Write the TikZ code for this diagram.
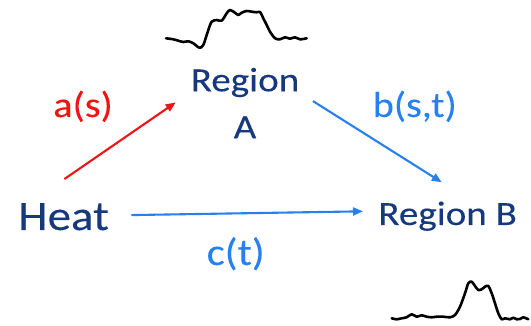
\documentclass[tikz,border=0pt]{standalone}
\usepackage{fontspec}
\setmainfont[FakeStretch=1.12,FakeBold=0.15]{Carlito}
\newfontfamily\widefont[FakeStretch=1.15,FakeBold=0.15]{Carlito}
\usetikzlibrary{arrows.meta}
\definecolor{darkblue}{RGB}{22,56,125}
\definecolor{lightblue}{RGB}{38,128,240}
\definecolor{redarrow}{RGB}{240,20,20}
\tikzset{
  region/.style={inner sep=0pt, outer sep=0pt, text=darkblue},
  label/.style={inner sep=0pt, outer sep=0pt},
  conn/.style={line width=2.1pt, -{Triangle[length=10pt,width=8pt]}},
  wave/.style={line width=2.6pt, line cap=round, line join=round, black}
}
\begin{document}
\begin{tikzpicture}[x=1pt,y=-1pt]
\useasboundingbox (0,0) rectangle (531,326);
% nodes
\node[region, align=center, anchor=base, font={\widefont\fontsize{34}{47}\selectfont}] (regA) at (245,138.3) {Region\\A};
\node[region, anchor=base west, font={\fontsize{42}{48}\selectfont}] (heat) at (18.3,230) {Heat};
\node[region, anchor=base west, font={\widefont\fontsize{34}{40}\selectfont}] (regB) at (378.3,225) {Region B};
\node[label, anchor=base west, text=redarrow, font={\fontsize{36}{40}\selectfont}] (la) at (53.3,117) {a(s)};
\node[label, anchor=base west, text=lightblue, font={\fontsize{36}{40}\selectfont}] (lb) at (372.7,117) {b(s,t)};
\node[label, anchor=base west, text=lightblue, font={\fontsize{38}{40}\selectfont}] (lc) at (206.7,265) {c(t)};
% connectors
\draw[conn, redarrow] ([shift={(0.8,-24)}]heat.north) -- ([shift={(-15,-0.7)}]regA.west);
\draw[conn, lightblue] ([shift={(13.7,-2)}]regA.east) -- ([shift={(-5.8,-19.3)}]regB.north);
\draw[conn, lightblue] ([shift={(22.6,-1.6)}]heat.east) -- ([shift={(-15.3,-4.9)}]regB.west);
% waveforms
\draw[wave] plot[smooth, tension=0.5] coordinates {(166,38.3) (173.3,39.3) (178.3,40.7) (183.3,42) (188.3,41.3) (193.3,43.3) (199.3,47.7) (203.3,45) (208.3,30) (211.7,21.7) (216.7,20) (221.7,20.7) (226.7,13.3) (230,10) (235,12.7) (238.3,15) (241.7,12.7) (246.7,11) (251.7,11.7) (256.7,12.3) (260,12) (263.3,18.3) (266.7,25) (270,31.7) (275,38.3) (280,39.3) (285,37.3) (290,38.7) (295,37.3) (300,39.3) (306.7,38.3)};
\draw[wave] plot[smooth, tension=0.5] coordinates {(391.7,318.3) (396.7,319.3) (401.7,318.3) (406.7,317.3) (411.7,314.3) (416.7,316.7) (421.7,315.3) (426.7,316.7) (431.7,317.3) (436.7,316.7) (443.3,316.7) (450,317.3) (455,315) (460,306.7) (465,293.3) (468.3,283.3) (471.7,281.7) (475,286) (478.3,290) (481.7,289.3) (485,286.7) (488.3,286) (491.7,293.3) (495,303.3) (498.3,313.3) (501.7,319.3) (505,318.3) (510,319.3) (513.3,317.7) (516.7,319.3) (520,319) (523.3,317.3) (528.3,319.3)};
\end{tikzpicture}
\end{document}
